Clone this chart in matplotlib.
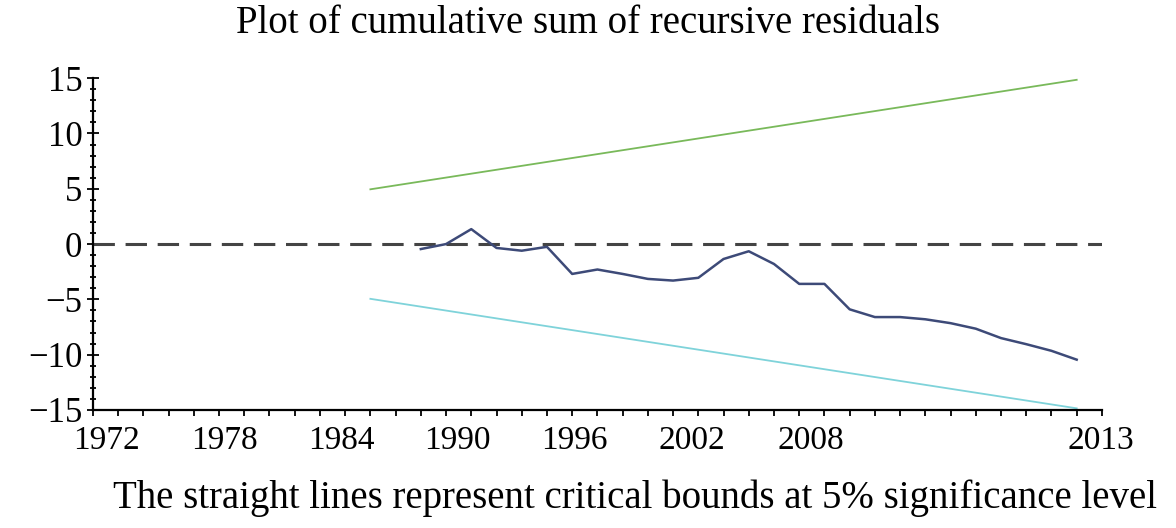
#!/usr/bin/env python3
import matplotlib
matplotlib.use("Agg")
import matplotlib.pyplot as plt
from matplotlib.ticker import MultipleLocator

# CUSUM of recursive residuals
YEARS = list(range(1985, 2012))
CUSUM = [-0.45, 0.0, 1.35, -0.35, -0.6, -0.25, -2.7, -2.3, -2.7, -3.15, -3.3,
         -3.05, -1.35, -0.65, -1.8, -3.6, -3.6, -5.9, -6.6, -6.6, -6.8, -7.15,
         -7.65, -8.5, -9.05, -9.65, -10.45]

# 5% critical bounds (straight lines)
BOUND_YEARS = [1983, 2011]
UPPER = [4.95, 14.85]
LOWER = [-4.95, -14.85]

# x tick labels as printed on the original (placement follows the picture)
XTICK_LABELS = ["1972", "1978", "1984", "1990", "1996", "2002", "2008", "2013"]
XTICK_POS = [1972.55, 1977.2, 1981.85, 1986.45, 1991.1, 1995.75, 2000.45, 2011.95]
YTICKS = [-15, -10, -5, 0, 5, 10, 15]

plt.rcParams["font.family"] = ["Liberation Serif", "DejaVu Serif"]

fig = plt.figure(figsize=(11.76, 5.28), dpi=100)
ax = fig.add_axes([0.079, 0.2235, 0.858, 0.6285])

ax.plot(BOUND_YEARS, UPPER, color="#79b95a", lw=1.3)
ax.plot(BOUND_YEARS, LOWER, color="#7fd3da", lw=1.3)
ax.axhline(0, color="#444444", lw=2.2, ls=(0, (7, 3.5)))
ax.plot(YEARS, CUSUM, color="#3d4a78", lw=1.8)

ax.set_xlim(1972, 2012)
ax.set_ylim(-15, 15)

ax.set_xticks(XTICK_POS)
ax.set_xticklabels(XTICK_LABELS)
ax.xaxis.set_minor_locator(MultipleLocator(1))
ax.set_yticks(YTICKS)
ax.set_yticklabels([str(v).replace("-", "\u2212") for v in YTICKS])
ax.yaxis.set_minor_locator(MultipleLocator(1))

ax.tick_params(axis="x", which="major", length=0, pad=11, labelsize=24)
ax.tick_params(axis="x", which="minor", direction="out", length=4, width=1.3)
ax.tick_params(axis="y", which="major", direction="inout", length=9, width=1.3,
               pad=3, labelsize=25)
ax.tick_params(axis="y", which="minor", direction="inout", length=5, width=1.3)

for side in ("top", "right"):
    ax.spines[side].set_visible(False)
for side in ("left", "bottom"):
    ax.spines[side].set_linewidth(1.6)

fig.text(0.5, 0.99, "Plot of cumulative sum of recursive residuals",
         ha="center", va="top", fontsize=28)
fig.text(0.54, 0.02, "The straight lines represent critical bounds at 5% significance level",
         ha="center", va="bottom", fontsize=28)

fig.savefig("out.png", dpi=100)
